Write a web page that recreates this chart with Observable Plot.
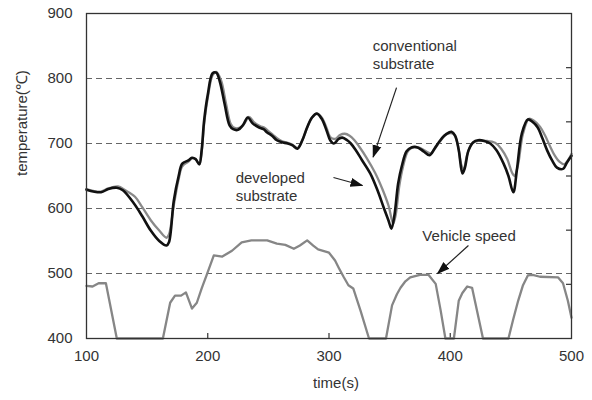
<!DOCTYPE html>
<html><head><meta charset="utf-8">
<script src="https://cdn.jsdelivr.net/npm/d3@7"></script>
<script src="https://cdn.jsdelivr.net/npm/@observablehq/plot@0.6"></script>
<style>body{margin:0;background:#fff;} svg{display:block}</style>
</head><body><div id="chart"></div>
<script>
// developed substrate (black)
const devTime = [100,112,118,125,130,139,146,153,160,166,168,172,176,179,184,187,190,193,195,197,200,204,207,210,214,218,221,225,229,233,237,242,246,249,253,257,261,266,270,274,278,282,286,290,294,298,301,304,308,311,315,318,322,327,334,340,345,349,351.5,354,357,360,364,368,373,378,383,387,391,395,399,401,404,407,410,412,415,419,423,428,433,438,444,448,452,455,459,464,468,472,476,480,484,488,493,496,500];
const devTemp = [629,625,630,632,628,608,588,566,550,543,548,612,650,669,674,678,676,668,690,735,775,808,809,795,760,728,722,721,728,740,731,725,722,717,712,705,702,700,697,692,705,725,740,746,738,720,705,700,707,709,705,700,690,675,654,628,602,582,569,590,638,665,688,694,694,688,682,692,703,712,717,718,712,690,654,662,689,702,705,704,700,690,669,650,625,660,715,737,733,725,708,689,674,663,661,670,681];
// conventional substrate (gray)
const convTime = [100,112,118,126,132,140,146,153,160,166,168,172,176,179,184,187,190,193,195,197,200,204,207,211,215,219,222,226,230,234,238,243,247,250,254,258,262,266,270,274,278,282,286,290,294,298,301,305,309,313,317,321,325,331,338,344,349,353,355,358,361,365,369,374,379,384,388,392,396,400,403,406,409,411,414,418,423,430,437,442,447,451,453,456,460,465,469,474,478,482,486,490,494,497,500];
const convTemp = [630,626,631,634,628,618,602,582,566,555,560,605,645,665,672,677,676,668,688,730,770,805,810,797,762,730,724,724,730,741,733,727,724,719,713,707,703,701,698,693,705,724,740,746,740,724,710,707,713,715,712,705,695,678,655,630,605,577,590,635,664,688,694,694,689,685,694,704,713,716,714,700,668,660,683,700,704,704,701,692,676,655,650,668,715,738,735,726,713,697,682,672,668,674,684];
// vehicle speed (drawn on the temperature scale, as read)
const spdTime = [100,105,110,116,125,163,169,173,178,182,187,191,195,199,205,212,220,228,236,249,257,264,271,276,282,287,291,300,305,308,312,316,320,326,333,347,352,356,359,363,367,375,382,388,392,396,403,407,410,414,418,427,448,452,456,460,464,468,474,489,493,497,500];
const spdVal = [481,480,485,485,400,400,455,466,466,471,446,455,477,497,528,526,535,548,551,551,546,544,538,543,551,543,537,532,520,509,495,482,477,443,400,400,451,468,478,488,494,498,498,484,444,400,400,458,470,480,478,400,400,430,458,482,497,498,495,494,485,458,432];

const xTicks = [100,200,300,400,500];
const yTicks = [400,500,600,700,800,900];
const gridLines = [500,600,700,800];
const innerXTicks = [200,300,400];
const speedTicks = [20,40,60,80,100]; // secondary (unlabelled) axis, km/h 0–120

const annoText = ["conventional\nsubstrate","developed\nsubstrate","Vehicle speed"];
const annoX = [336,223,377];
const annoY = [837,634,558];
const arrowX1 = [355.7,303.7,415];
const arrowY1 = [786,647.7,543];
const arrowX2 = [336.4,327.6,389.5];
const arrowY2 = [679,635.4,500];

const dev = devTime.map((t,i)=>({t, v: devTemp[i]}));
const conv = convTime.map((t,i)=>({t, v: convTemp[i]}));
const spd = spdTime.map((t,i)=>({t, v: spdVal[i]}));
const annos = annoText.map((s,i)=>({s, x: annoX[i], y: annoY[i]}));
const arrows = arrowX1.map((x1,i)=>({x1, y1: arrowY1[i], x2: arrowX2[i], y2: arrowY2[i]}));

const W = 592, H = 400, ML = 86, MR = 21, MT = 13, MB = 62;
const yMin = 400, yMax = 900;
const chart = Plot.plot({
  width: W, height: H,
  marginLeft: ML, marginRight: MR, marginTop: MT, marginBottom: MB,
  style: {fontFamily: "'Liberation Sans', Arial, sans-serif", fontSize: "15px", color: "#333", background: "#fff"},
  x: {domain: [100, 500]},
  y: {domain: [yMin, yMax]},
  marks: [
    Plot.ruleY(gridLines, {stroke: "#555", strokeDasharray: "6,4", strokeWidth: 0.9}),
    Plot.tickX(innerXTicks, {x: d => d, stroke: "#333", strokeWidth: 1.2, insetTop: H - MT - MB - 5}),
    Plot.tickY(speedTicks, {y: d => yMin + d * (yMax - yMin) / 120, stroke: "#333", strokeWidth: 1.2, insetLeft: W - ML - MR - 5}),
    Plot.line(spd, {x: "t", y: "v", stroke: "#868686", strokeWidth: 2.3}),
    Plot.line(conv, {x: "t", y: "v", stroke: "#8a8a8a", strokeWidth: 2.3, curve: "catmull-rom"}),
    Plot.line(dev, {x: "t", y: "v", stroke: "#111", strokeWidth: 2.6, curve: "catmull-rom"}),
    Plot.frame({stroke: "#333", strokeWidth: 1.3}),
    Plot.axisX({ticks: xTicks, tickSize: 0, tickPadding: 12, label: null, fill: "#333"}),
    Plot.axisY({ticks: yTicks, tickSize: 0, tickPadding: 14, label: null, fill: "#333"}),
    Plot.text(["temperature(℃)"], {frameAnchor: "left", rotate: -90, dx: -64, fill: "#333", fontSize: 15}),
    Plot.text(["time(s)"], {frameAnchor: "bottom", dy: 49, dx: 7, fill: "#333", fontSize: 15}),
    Plot.text(annos, {x: "x", y: "y", text: "s", textAnchor: "start", lineHeight: 1.15, fill: "#333", fontSize: 15}),
    Plot.link(arrows, {x1: "x1", y1: "y1", x2: "x2", y2: "y2", stroke: "#222", strokeWidth: 1.2, markerEnd: "arrow"})
  ]
});
// filled triangular arrowheads
d3.select(chart).selectAll("marker")
  .attr("markerUnits", "userSpaceOnUse")
  .attr("viewBox", "-12 -6 13 12")
  .attr("markerWidth", 13).attr("markerHeight", 12)
  .attr("fill", "#111").attr("stroke", "none")
  .selectAll("path").attr("d", "M-12,-4.5L1,0L-12,4.5Z");
document.getElementById("chart").append(chart);
</script>
</body></html>
